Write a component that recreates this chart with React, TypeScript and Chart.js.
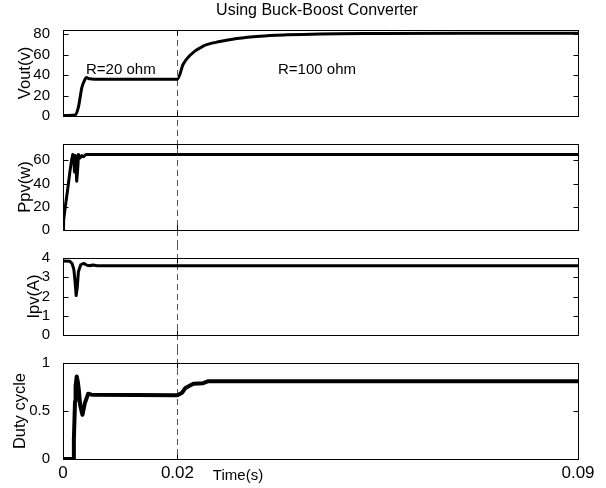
import React, { useEffect, useRef } from "react";
import { Chart, registerables } from "chart.js";

Chart.register(...registerables);

const FONT = '"Liberation Sans", Arial, Helvetica, sans-serif';

const timeTicks = [0, 0.02, 0.09];
const switchTime = 0.02;

const voutTime = [0, 0.0021, 0.0027, 0.0033, 0.0037, 0.0041, 0.0046, 0.0055, 0.02, 0.021, 0.0222, 0.0245, 0.0274, 0.0304, 0.0344, 0.0391, 0.0449, 0.055, 0.07, 0.09];
const voutValues = [0.5, 1, 9, 28, 34, 37.5, 36.3, 36, 36, 50.5, 59.4, 68.3, 72.7, 75.7, 78, 79.3, 80.2, 80.6, 80.8, 80.8];
const voutTicks = [0, 20, 40, 60, 80];

const ppvTime = [0, 0.0001, 0.0004, 0.0009, 0.0012, 0.0015, 0.0017, 0.0019, 0.002, 0.0021, 0.0022, 0.0024, 0.0026, 0.0027, 0.003, 0.0033, 0.0036, 0.004, 0.09];
const ppvValues = [0, 8, 20, 38, 50, 60, 65, 62, 50, 64, 62, 42, 55, 65, 62, 64, 63, 65, 65];
const ppvTicks = [0, 20, 40, 60];

const ipvTime = [0, 0.0012, 0.0016, 0.0019, 0.0021, 0.0023, 0.0025, 0.0027, 0.0031, 0.0036, 0.0042, 0.0047, 0.0052, 0.006, 0.09];
const ipvValues = [3.85, 3.83, 3.7, 3.4, 2.8, 2.05, 2.5, 3.3, 3.65, 3.72, 3.62, 3.6, 3.64, 3.6, 3.6];
const ipvTicks = [0, 1, 2, 3, 4];

const dutyTime = [0, 0.0018, 0.0019, 0.0021, 0.0022, 0.0024, 0.0026, 0.0028, 0.003, 0.0034, 0.0038, 0.0044, 0.005, 0.02, 0.0208, 0.0214, 0.0222, 0.0228, 0.0245, 0.0254, 0.09];
const dutyValues = [0, 0, 0.2, 0.6, 0.76, 0.86, 0.8, 0.7, 0.56, 0.46, 0.58, 0.68, 0.67, 0.665, 0.69, 0.74, 0.765, 0.785, 0.79, 0.81, 0.81];
const dutyTicks = [0, 0.5, 1];

const chartTitle = "Using Buck-Boost Converter";
const xAxisTitle = "Time(s)";
const loadLabels = ["R=20 ohm", "R=100 ohm"];

interface TextItem {
  text: string;
  x: number;
  y: number;
  size: number;
  align: CanvasTextAlign;
  rotate?: boolean;
  center?: boolean;
}

interface PanelSpec {
  time: number[];
  values: number[];
  ticks: number[];
  yMax: number;
  yLabel: string;
  yLabelX: number;
  canvasTop: number;
  canvasHeight: number;
  padTop: number;
  padBottom: number;
  showX: boolean;
  first: boolean;
  last: boolean;
  smooth: boolean;
  lineWidth: number;
  texts: TextItem[];
}

const panelPlugin = {
  id: "panelDecor",
  beforeDatasetsDraw(chart: any, _args: any, opts: any) {
    const { ctx, chartArea, scales } = chart;
    const x = Math.round(scales.x.getPixelForValue(opts.dashAt)) + 0.5;
    ctx.save();
    ctx.strokeStyle = "#555";
    ctx.lineWidth = 1;
    ctx.setLineDash([6, 4]);
    ctx.beginPath();
    ctx.moveTo(x, opts.first ? chartArea.top : 0);
    ctx.lineTo(x, opts.last ? chartArea.bottom : chart.height);
    ctx.stroke();
    ctx.restore();
  },
  afterDraw(chart: any, _args: any, opts: any) {
    const { ctx, chartArea, scales } = chart;
    const { left, right, top, bottom } = chartArea;
    ctx.save();
    ctx.strokeStyle = "#000";
    ctx.lineWidth = 1;
    ctx.setLineDash([]);
    const l = Math.round(left) + 0.5;
    const r = Math.round(right) + 0.5;
    const t = Math.round(top) + 0.5;
    const b = Math.round(bottom) + 0.5;
    ctx.strokeRect(l, t, r - l, b - t);
    const tl = 5;
    ctx.beginPath();
    for (const v of opts.yTicks) {
      const y = Math.round(scales.y.getPixelForValue(v)) + 0.5;
      ctx.moveTo(l, y);
      ctx.lineTo(l + tl, y);
      ctx.moveTo(r, y);
      ctx.lineTo(r - tl, y);
    }
    for (const v of opts.xTicks) {
      const x = Math.round(scales.x.getPixelForValue(v)) + 0.5;
      ctx.moveTo(x, b);
      ctx.lineTo(x, b - tl);
      ctx.moveTo(x, t);
      ctx.lineTo(x, t + tl);
    }
    ctx.stroke();
    ctx.fillStyle = "#000";
    ctx.textBaseline = "middle";
    for (const item of opts.texts as TextItem[]) {
      ctx.font = `${item.size}px ${FONT}`;
      ctx.textAlign = item.align;
      const y = item.center ? (top + bottom) / 2 : item.y;
      if (item.rotate) {
        ctx.save();
        ctx.translate(item.x, y);
        ctx.rotate(-Math.PI / 2);
        ctx.fillText(item.text, 0, 0);
        ctx.restore();
      } else {
        ctx.fillText(item.text, item.x, y);
      }
    }
    ctx.restore();
  },
};

const panels: PanelSpec[] = [
  {
    time: voutTime, values: voutValues, ticks: voutTicks, yMax: 84, yLabel: "Vout(v)", yLabelX: 25,
    canvasTop: 0, canvasHeight: 130, padTop: 30, padBottom: 6, showX: false, first: true, last: false,
    smooth: true, lineWidth: 3,
    texts: [
      { text: chartTitle, x: 317, y: 11, size: 16, align: "center" },
      { text: loadLabels[0], x: 86, y: 70, size: 15, align: "left" },
      { text: loadLabels[1], x: 278, y: 70, size: 15, align: "left" },
    ],
  },
  {
    time: ppvTime, values: ppvValues, ticks: ppvTicks, yMax: 74, yLabel: "Ppv(w)", yLabelX: 25,
    canvasTop: 130, canvasHeight: 114, padTop: 6, padBottom: 9, showX: false, first: false, last: false,
    smooth: false, lineWidth: 3, texts: [],
  },
  {
    time: ipvTime, values: ipvValues, ticks: ipvTicks, yMax: 4, yLabel: "Ipv(A)", yLabelX: 34,
    canvasTop: 244, canvasHeight: 105, padTop: 9, padBottom: 10, showX: false, first: false, last: false,
    smooth: false, lineWidth: 3, texts: [],
  },
  {
    time: dutyTime, values: dutyValues, ticks: dutyTicks, yMax: 1, yLabel: "Duty cycle", yLabelX: 20,
    canvasTop: 349, canvasHeight: 139, padTop: 10, padBottom: 0, showX: true, first: false, last: true,
    smooth: false, lineWidth: 4,
    texts: [{ text: xAxisTitle, x: 238, y: 127, size: 15, align: "center" }],
  },
];

function Panel({ spec }: { spec: PanelSpec }) {
  const ref = useRef<HTMLCanvasElement | null>(null);
  useEffect(() => {
    const canvas = ref.current;
    if (!canvas) return;
    const points = spec.time.map((t, i) => ({ x: t, y: spec.values[i] }));
    const chart = new Chart(canvas, {
      type: "line",
      data: {
        datasets: [
          {
            data: points,
            borderColor: "#000",
            borderWidth: spec.lineWidth,
            pointRadius: 0,
            fill: false,
            tension: spec.smooth ? 0.4 : 0,
            cubicInterpolationMode: spec.smooth ? "monotone" : "default",
            borderJoinStyle: "round",
            borderCapStyle: "round",
          } as any,
        ],
      },
      options: {
        responsive: false,
        animation: false,
        devicePixelRatio: 1,
        layout: { padding: { left: 0, right: 28, top: spec.padTop, bottom: spec.padBottom } },
        plugins: {
          legend: { display: false },
          tooltip: { enabled: false },
          panelDecor: {
            dashAt: switchTime,
            first: spec.first,
            last: spec.last,
            yTicks: spec.ticks,
            xTicks: timeTicks,
            texts: [
              ...spec.texts,
              { text: spec.yLabel, x: spec.yLabelX, y: 0, size: 16.5, align: "center", rotate: true, center: true },
            ],
          },
        } as any,
        scales: {
          x: {
            type: "linear",
            min: 0,
            max: 0.09,
            display: spec.showX,
            grid: { display: false },
            border: { display: false },
            afterBuildTicks: (s: any) => {
              s.ticks = timeTicks.map((v) => ({ value: v }));
            },
            afterFit: (s: any) => {
              if (spec.showX) s.height = 29;
            },
            ticks: {
              font: { family: FONT, size: 17 },
              color: "#000",
              padding: -4,
              maxRotation: 0,
              autoSkip: false,
              callback: (v: any) => String(v),
            },
          },
          y: {
            type: "linear",
            min: 0,
            max: spec.yMax,
            grid: { display: false },
            border: { display: false },
            afterBuildTicks: (s: any) => {
              s.ticks = spec.ticks.map((v) => ({ value: v }));
            },
            afterFit: (s: any) => {
              s.width = 63;
            },
            ticks: {
              font: { family: FONT, size: 15 },
              color: "#000",
              padding: 5,
              callback: (v: any) => String(v),
            },
          },
        },
      },
      plugins: [panelPlugin],
    });
    return () => chart.destroy();
  }, [spec]);
  return (
    <canvas
      ref={ref}
      width={606}
      height={spec.canvasHeight}
      style={{ position: "absolute", left: 0, top: spec.canvasTop, width: 606, height: spec.canvasHeight }}
    />
  );
}

export default function App() {
  return (
    <div style={{ position: "fixed", left: 0, top: 0, width: 606, height: 488, background: "#fff" }}>
      {panels.map((p, i) => (
        <Panel key={i} spec={p} />
      ))}
    </div>
  );
}
